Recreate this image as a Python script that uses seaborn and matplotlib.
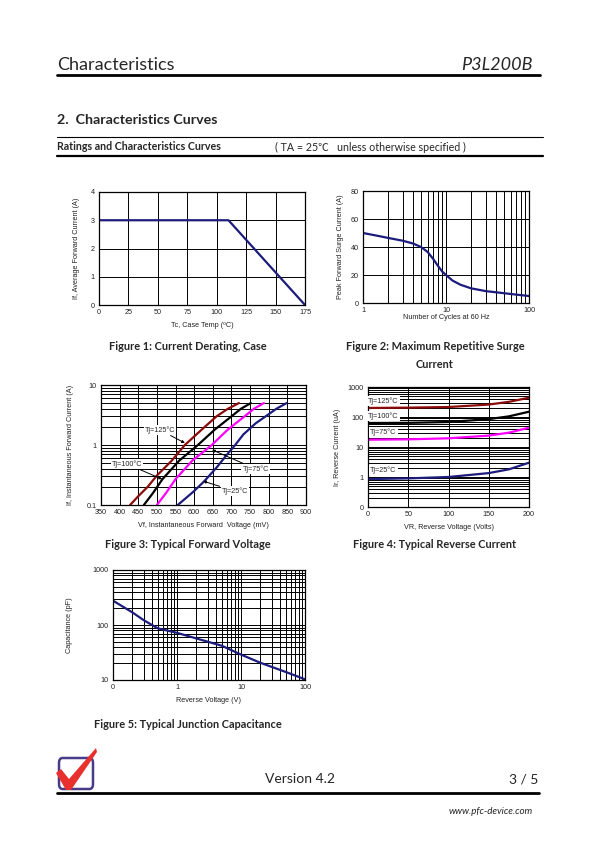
import matplotlib
matplotlib.use("Agg")
import matplotlib.pyplot as plt
import seaborn as sns
from matplotlib.ticker import FixedLocator, FixedFormatter, LogLocator, NullFormatter
from matplotlib.patches import FancyBboxPatch, Polygon
from matplotlib.lines import Line2D

# =============================================================================
# DATA
# =============================================================================
# Figure 1: current derating
derate_temp = [0, 110, 175]
derate_current = [3.0, 3.0, 0.0]

# Figure 2: surge current vs cycles
surge_cycles = [1, 1.5, 2, 3, 4, 5, 6, 7, 8, 9, 10, 12, 15, 20, 30, 50, 70, 100]
surge_current = [50, 48, 46.5, 44.5, 42.5, 40, 36.5, 31.5, 26.5, 22.5, 20, 16,
                 13, 10.5, 8.5, 7, 6, 5]

# Figure 3: forward voltage (mV) vs forward current (A)
vf_125 = [428, 450, 475, 500, 540, 575, 620, 660, 690, 720]
if_125 = [0.1, 0.14, 0.2, 0.31, 0.55, 1.0, 1.8, 3.0, 4.0, 5.0]
vf_100 = [465, 490, 515, 560, 610, 655, 700, 725, 752]
if_100 = [0.1, 0.16, 0.27, 0.55, 1.0, 1.8, 3.0, 4.0, 5.0]
vf_75 = [500, 525, 550, 595, 645, 690, 735, 760, 787]
if_75 = [0.1, 0.16, 0.27, 0.55, 0.97, 1.8, 3.0, 4.0, 5.0]
vf_25 = [556, 598, 626, 660, 687, 710, 732, 765, 795, 820, 848]
if_25 = [0.1, 0.167, 0.245, 0.42, 0.68, 1.0, 1.5, 2.3, 3.1, 4.0, 5.0]

# Figure 4: reverse voltage (V) vs reverse current (uA)
vr_points = [0, 50, 100, 150, 175, 200]
ir_125 = [200, 205, 215, 260, 320, 440]
ir_100 = [63, 64, 68, 85, 105, 150]
ir_75 = [17.5, 18, 19.5, 24, 30, 44]
ir_25 = [0.85, 0.9, 1.0, 1.35, 1.8, 3.0]

# Figure 5: junction capacitance
cap_voltage = [0.1, 0.2, 0.3, 0.5, 1, 2, 5, 10, 20, 50, 100]
cap_pf = [277, 170, 123, 87, 72, 57, 42, 29, 20.6, 14, 10.3]

# =============================================================================
# PAGE SETUP
# =============================================================================
sns.set_theme(style="white")
plt.rcParams["font.family"] = ["Lato", "DejaVu Sans"]

W, H = 595, 842
fig = plt.figure(figsize=(W / 100, H / 100), dpi=100)
fig.patch.set_facecolor("white")

CHART_FONT = "Liberation Sans"
TICK_FS = 5.2
NAVY = "#1c1c7c"


def box(l, t, r, b):
    return [l / W, 1 - b / H, (r - l) / W, (b - t) / H]


def ftext(x, y, s, **kw):
    fig.text(x / W, 1 - y / H, s, **kw)


def hline(x0, x1, y, lw):
    fig.add_artist(Line2D([x0 / W, x1 / W], [1 - y / H, 1 - y / H],
                          color="black", lw=lw, transform=fig.transFigure))


def style_axes(ax):
    ax.set_facecolor("white")
    for sp in ax.spines.values():
        sp.set_visible(True)
        sp.set_color("black")
        sp.set_linewidth(0.9)
    ax.grid(True, which="both", color="black", lw=0.7)
    ax.set_axisbelow(True)
    ax.tick_params(which="both", length=0, labelsize=TICK_FS, pad=3,
                   colors="#222222")
    for lab in ax.get_xticklabels() + ax.get_yticklabels():
        lab.set_fontfamily(CHART_FONT)


def set_labels(ax, xl, yl, xpad=2, ypad=6):
    ax.set_xlabel(xl, fontsize=TICK_FS, family=CHART_FONT, labelpad=xpad,
                  color="#222222")
    ax.set_ylabel(yl, fontsize=TICK_FS, family=CHART_FONT, labelpad=ypad,
                  color="#222222")


# ------ Header ------
ftext(57, 65, "Characteristics", fontsize=13, va="center", ha="left")
ftext(533, 65, "P3L200B", fontsize=13, va="center", ha="right", style="italic")
hline(57, 540, 75, 2.0)
ftext(57, 120, "2.  Characteristics Curves", fontsize=10.3, fontweight="bold",
      va="center", ha="left")
hline(57, 543, 137, 0.8)
ftext(57, 147, "Ratings and Characteristics Curves", fontsize=7.7,
      fontweight="bold", va="center", ha="left")
ftext(275, 147, "( TA = 25℃   unless otherwise specified )", fontsize=7.7,
      va="center", ha="left", family=["Lato", "Noto Sans CJK SC", "DejaVu Sans"])
hline(57, 543, 156, 1.6)

# =============================================================================
# FIGURE 1
# =============================================================================
ax1 = fig.add_axes(box(99, 192, 305, 305))
sns.lineplot(x=derate_temp, y=derate_current, ax=ax1, color=NAVY, lw=1.6)
ax1.set_xlim(0, 175)
ax1.set_ylim(0, 4)
ax1.set_xticks(range(0, 176, 25))
ax1.set_yticks(range(0, 5))
style_axes(ax1)
set_labels(ax1, "Tc, Case Temp (ºC)", "If, Average Forward Current (A)",
           xpad=4, ypad=8)

# =============================================================================
# FIGURE 2
# =============================================================================
ax2 = fig.add_axes(box(363, 191, 529, 303))
sns.lineplot(x=surge_cycles, y=surge_current, ax=ax2, color=NAVY, lw=1.6)
ax2.set_xscale("log")
ax2.set_xlim(1, 100)
ax2.set_ylim(0, 80)
ax2.xaxis.set_major_locator(FixedLocator([1, 10, 100]))
ax2.xaxis.set_major_formatter(FixedFormatter(["1", "10", "100"]))
ax2.xaxis.set_minor_locator(LogLocator(subs=range(2, 10)))
ax2.xaxis.set_minor_formatter(NullFormatter())
ax2.set_yticks(range(0, 81, 20))
style_axes(ax2)
ax2.yaxis.grid(True, which="minor", lw=0)
set_labels(ax2, "Number of Cycles at 60 Hz", "Peak Forward Surge Current (A)",
           xpad=0, ypad=5)

# =============================================================================
# FIGURE 3
# =============================================================================
ax3 = fig.add_axes(box(101, 385, 306, 505))
for vf, cur, col in [(vf_125, if_125, "#8b0a0a"), (vf_100, if_100, "black"),
                     (vf_75, if_75, "#ff00ff"), (vf_25, if_25, NAVY)]:
    sns.lineplot(x=vf, y=cur, ax=ax3, color=col, lw=1.6)
ax3.set_yscale("log")
ax3.set_xlim(350, 900)
ax3.set_ylim(0.1, 10)
ax3.set_xticks(range(350, 901, 50))
ax3.yaxis.set_major_locator(FixedLocator([0.1, 1, 10]))
ax3.yaxis.set_major_formatter(FixedFormatter(["0.1", "1", "10"]))
ax3.yaxis.set_minor_locator(LogLocator(subs=range(2, 10)))
ax3.yaxis.set_minor_formatter(NullFormatter())
style_axes(ax3)
ax3.xaxis.grid(True, which="minor", lw=0)
set_labels(ax3, "Vf, Instantaneous Forward  Voltage (mV)",
           "If, Instantaneous Forward Current (A)", xpad=4, ypad=9)

fig3_notes = [("Tj=125°C", (508, 1.78), (575, 1.08)),
              ("Tj=100°C", (420, 0.48), (514, 0.27)),
              ("Tj=75°C", (765, 0.40), (648, 0.83)),
              ("Tj=25°C", (710, 0.17), (624, 0.25))]
for label, txt_xy, tip_xy in fig3_notes:
    ax3.annotate(label, xy=tip_xy, xytext=txt_xy, fontsize=TICK_FS,
                 family=CHART_FONT, ha="center", va="center",
                 bbox=dict(boxstyle="square,pad=0.15", fc="white", ec="none"),
                 arrowprops=dict(arrowstyle="-|>", color="black", lw=0.7,
                                 mutation_scale=4, shrinkA=1, shrinkB=0))

# =============================================================================
# FIGURE 4
# =============================================================================
ax4 = fig.add_axes(box(368, 387, 529, 507))
for cur, col in [(ir_125, "#8b0a0a"), (ir_100, "black"), (ir_75, "#ff00ff"),
                 (ir_25, NAVY)]:
    sns.lineplot(x=vr_points, y=cur, ax=ax4, color=col, lw=1.6)
ax4.set_yscale("log")
ax4.set_xlim(0, 200)
ax4.set_ylim(0.1, 1000)
ax4.set_xticks(range(0, 201, 50))
ax4.yaxis.set_major_locator(FixedLocator([0.1, 1, 10, 100, 1000]))
ax4.yaxis.set_major_formatter(FixedFormatter(["0", "1", "10", "100", "1000"]))
ax4.yaxis.set_minor_locator(LogLocator(subs=range(2, 10)))
ax4.yaxis.set_minor_formatter(NullFormatter())
style_axes(ax4)
ax4.xaxis.grid(True, which="minor", lw=0)
set_labels(ax4, "VR, Reverse Voltage (Volts)", "Ir, Reverse Current (uA)",
           xpad=4, ypad=5)

fig4_notes = [("Tj=125°C", 340), ("Tj=100°C", 108), ("Tj=75°C", 31.6),
              ("Tj=25°C", 1.7)]
for label, yv in fig4_notes:
    ax4.text(19, yv, label, fontsize=TICK_FS, family=CHART_FONT, ha="center",
             va="center",
             bbox=dict(boxstyle="square,pad=0.15", fc="white", ec="none"))

# =============================================================================
# FIGURE 5
# =============================================================================
ax5 = fig.add_axes(box(113, 570, 305, 680))
sns.lineplot(x=cap_voltage, y=cap_pf, ax=ax5, color=NAVY, lw=1.6)
ax5.set_xscale("log")
ax5.set_yscale("log")
ax5.set_xlim(0.1, 100)
ax5.set_ylim(10, 1000)
ax5.xaxis.set_major_locator(FixedLocator([0.1, 1, 10, 100]))
ax5.xaxis.set_major_formatter(FixedFormatter(["0", "1", "10", "100"]))
ax5.yaxis.set_major_locator(FixedLocator([10, 100, 1000]))
ax5.yaxis.set_major_formatter(FixedFormatter(["10", "100", "1000"]))
for axis in (ax5.xaxis, ax5.yaxis):
    axis.set_minor_locator(LogLocator(subs=range(2, 10)))
    axis.set_minor_formatter(NullFormatter())
style_axes(ax5)
set_labels(ax5, "Reverse Voltage (V)", "Capacitance (pF)", xpad=4, ypad=14)

# ------ Captions ------
cap_kw = dict(fontsize=7.9, fontweight="bold", ha="center", va="center")
ftext(188, 347, "Figure 1: Current Derating, Case", **cap_kw)
ftext(435, 347, "Figure 2: Maximum Repetitive Surge", **cap_kw)
ftext(435, 365, "Current", **cap_kw)
ftext(188, 545, "Figure 3: Typical Forward Voltage", **cap_kw)
ftext(435, 545, "Figure 4: Typical Reverse Current", **cap_kw)
ftext(188, 724, "Figure 5: Typical Junction Capacitance", **cap_kw)

# ------ Footer ------
fig.add_artist(FancyBboxPatch((59 / W, 1 - 789 / H), 34 / W, 31 / H,
                              boxstyle="round,pad=0,rounding_size=0.006",
                              fc="white", ec="#4a3a8a", lw=1.8,
                              transform=fig.transFigure))
check = [(56, 773), (61, 769), (69, 779), (96, 748), (97, 752), (71, 790),
         (66, 790)]
fig.add_artist(Polygon([(x / W, 1 - y / H) for x, y in check], closed=True,
                       fc="#e8302e", ec="none", transform=fig.transFigure))
ftext(300, 779, "Version 4.2", fontsize=10, ha="center", va="center")
ftext(538, 779, "3 / 5", fontsize=10, ha="right", va="center")
hline(57, 539, 793, 2.0)
ftext(533, 812, "www.pfc-device.com", fontsize=7, ha="right", va="center",
      style="italic")

fig.savefig("out.png", dpi=100, facecolor="white")
